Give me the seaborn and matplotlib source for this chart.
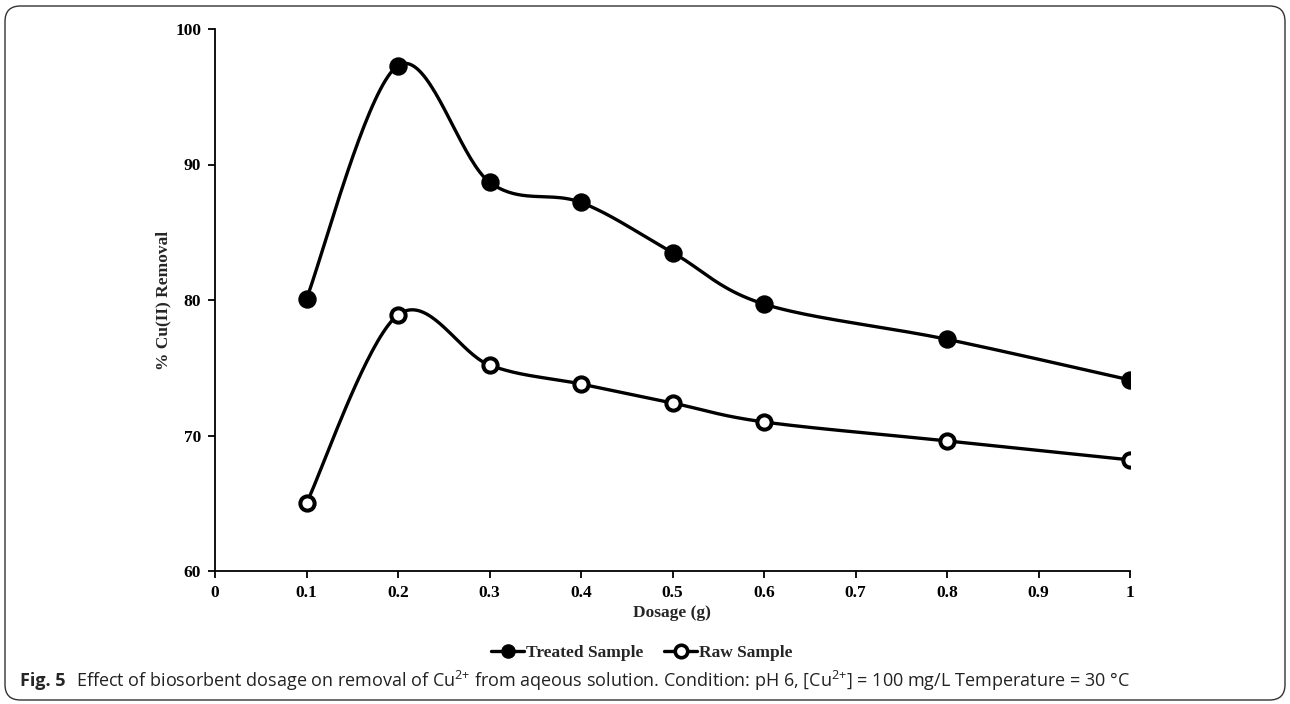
import numpy as np
import pandas as pd
import seaborn as sns
import matplotlib
matplotlib.use("Agg")
import matplotlib.pyplot as plt
from matplotlib.lines import Line2D
from matplotlib.patches import FancyBboxPatch

# ---- data ----
dosage = [0.1, 0.2, 0.3, 0.4, 0.5, 0.6, 0.8, 1.0]
treated = [80.1, 97.3, 88.7, 87.2, 83.5, 79.7, 77.1, 74.1]
raw = [65.0, 78.9, 75.2, 73.8, 72.4, 71.0, 69.6, 68.2]
x_ticks = [0, 0.1, 0.2, 0.3, 0.4, 0.5, 0.6, 0.7, 0.8, 0.9, 1.0]
x_ticklabels = ["0", "0.1", "0.2", "0.3", "0.4", "0.5", "0.6", "0.7", "0.8", "0.9", "1"]
y_ticks = [60, 70, 80, 90, 100]
series_names = ["Treated Sample", "Raw Sample"]

sns.set_style("white")
plt.rcParams["font.family"] = ["Liberation Serif", "DejaVu Serif"]
plt.rcParams["mathtext.default"] = "regular"

W, H = 1290, 704
fig = plt.figure(figsize=(W / 100, H / 100), dpi=100)
ax = fig.add_axes([215 / W, 1 - 571 / H, (1130 - 215) / W, (571 - 29) / H])


def smooth(xs, ys, n=40):
    """Catmull-Rom style smoothed path (like a spreadsheet 'smoothed line')."""
    P = np.column_stack([xs, ys]).astype(float)
    Pext = np.vstack([P[0], P, P[-1]])
    out = []
    t = np.linspace(0, 1, n)
    for i in range(1, len(Pext) - 2):
        p0, p1, p2, p3 = Pext[i - 1], Pext[i], Pext[i + 1], Pext[i + 2]
        c1 = p1 + (p2 - p0) / 6.0
        c2 = p2 - (p3 - p1) / 6.0
        seg = ((1 - t) ** 3)[:, None] * p1 + (3 * (1 - t) ** 2 * t)[:, None] * c1 \
            + (3 * (1 - t) * t ** 2)[:, None] * c2 + (t ** 3)[:, None] * p2
        out.append(seg if i == 1 else seg[1:])
    return np.vstack(out)


lw = 2.4
for vals in (treated, raw):
    s = smooth(dosage, vals)
    ax.plot(s[:, 0], s[:, 1], color="black", lw=lw, solid_capstyle="round", zorder=2)

df = pd.DataFrame({"Dosage": dosage * 2,
                   "Removal": treated + raw,
                   "Series": [series_names[0]] * len(dosage) + [series_names[1]] * len(dosage)})
sns.scatterplot(data=df[df.Series == series_names[0]], x="Dosage", y="Removal", ax=ax,
                s=150, color="black", edgecolor="black", linewidth=1, zorder=3, legend=False)
sns.scatterplot(data=df[df.Series == series_names[1]], x="Dosage", y="Removal", ax=ax,
                s=105, facecolor="white", edgecolor="black", linewidth=2.9, zorder=3, legend=False)

ax.set_xlim(0, 1)
ax.set_ylim(60, 100)
ax.set_xticks(x_ticks)
ax.set_xticklabels(x_ticklabels)
ax.set_yticks(y_ticks)
for sp in ["top", "right"]:
    ax.spines[sp].set_visible(False)
for sp in ["left", "bottom"]:
    ax.spines[sp].set_linewidth(1.3)
    ax.spines[sp].set_color("black")
ax.tick_params(axis="both", direction="out", length=5, width=1.3, colors="black",
               labelsize=12.5, pad=5, left=True, bottom=True)
for lab in ax.get_xticklabels() + ax.get_yticklabels():
    lab.set_fontweight("bold")
ax.set_ylabel("% Cu(II) Removal", fontsize=12.5, fontweight="bold", labelpad=3)
ax.set_xlabel("")
fig.text(672 / W, 1 - 613 / H, "Dosage (g)", fontsize=12.5, fontweight="bold",
         ha="center", va="center")

handles = [
    Line2D([0], [0], color="black", lw=lw, marker="o", markersize=9.5,
           markerfacecolor="black", markeredgecolor="black"),
    Line2D([0], [0], color="black", lw=lw, marker="o", markersize=9,
           markerfacecolor="white", markeredgecolor="black", markeredgewidth=2.6),
]
fig.legend(handles, series_names, loc="center", bbox_to_anchor=(642 / W, 1 - 653 / H),
           ncol=2, frameon=False, handlelength=1.9, handletextpad=0.1, columnspacing=1.2,
           prop={"family": "Liberation Serif", "weight": "bold", "size": 12.5})

# caption
cap_y = 1 - 681 / H
t1 = fig.text(20 / W, cap_y, "Fig. 5", fontsize=13, fontweight="bold",
              family=["Open Sans", "DejaVu Sans"], ha="left", va="center")
fig.canvas.draw()
bb = t1.get_window_extent(fig.canvas.get_renderer())
fig.text((bb.x1 + 10) / W, cap_y,
         "Effect of biosorbent dosage on removal of Cu$^{2{+}}$ from aqeous solution. "
         "Condition: pH 6, [Cu$^{2{+}}$] = 100 mg/L Temperature = 30 \u00b0C",
         fontsize=13, family=["Open Sans", "DejaVu Sans"], ha="left", va="center",
         color="#222222")

border = FancyBboxPatch((5 / W, 4 / H), 1280 / W, 694 / H,
                        boxstyle="round,pad=0,rounding_size=0.012",
                        transform=fig.transFigure, fill=False, edgecolor="#333333",
                        linewidth=1.0, mutation_aspect=W / H)
fig.patches.append(border)

fig.savefig("out.png", dpi=100)
